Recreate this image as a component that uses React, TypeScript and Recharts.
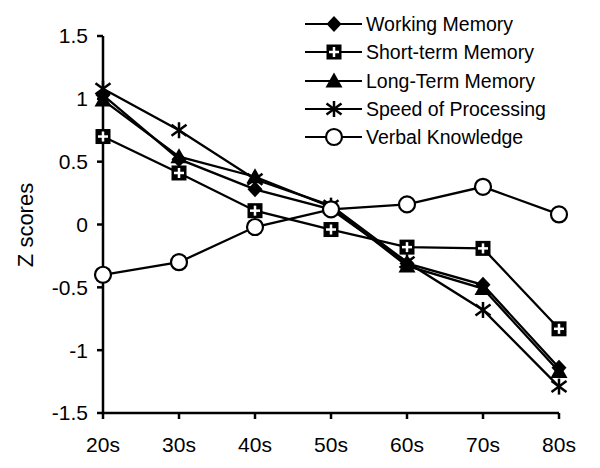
import React from 'react';
import { LineChart, Line, XAxis, YAxis, Legend } from 'recharts';

const categories = ['20s', '30s', '40s', '50s', '60s', '70s', '80s'];
const workingMemory = [1.03, 0.52, 0.28, 0.12, -0.31, -0.48, -1.14];
const shortTermMemory = [0.7, 0.41, 0.11, -0.04, -0.18, -0.19, -0.83];
const longTermMemory = [0.99, 0.54, 0.38, 0.14, -0.33, -0.51, -1.17];
const speedOfProcessing = [1.08, 0.75, 0.36, 0.15, -0.3, -0.68, -1.29];
const verbalKnowledge = [-0.4, -0.3, -0.02, 0.12, 0.16, 0.3, 0.08];
const yTicks = [-1.5, -1, -0.5, 0, 0.5, 1, 1.5];

const data = categories.map((c, i) => ({
  age: c,
  wm: workingMemory[i],
  stm: shortTermMemory[i],
  ltm: longTermMemory[i],
  sp: speedOfProcessing[i],
  vk: verbalKnowledge[i],
}));

const diamond = (cx: number, cy: number, k?: any) => (
  <path key={k} d={`M${cx},${cy - 8}L${cx + 7.5},${cy}L${cx},${cy + 8}L${cx - 7.5},${cy}Z`} fill="#000" />
);
const squareCross = (cx: number, cy: number, k?: any) => (
  <g key={k}>
    <rect x={cx - 7.5} y={cy - 7.5} width={15} height={15} fill="#000" />
    <line x1={cx - 5} y1={cy} x2={cx + 5} y2={cy} stroke="#fff" strokeWidth={2.5} />
    <line x1={cx} y1={cy - 5} x2={cx} y2={cy + 5} stroke="#fff" strokeWidth={2.5} />
  </g>
);
const triangle = (cx: number, cy: number, k?: any) => (
  <path key={k} d={`M${cx},${cy - 8.5}L${cx + 8.5},${cy + 6.5}L${cx - 8.5},${cy + 6.5}Z`} fill="#000" />
);
const asterisk = (cx: number, cy: number, k?: any) => (
  <g key={k} stroke="#000" strokeWidth={2.5}>
    <line x1={cx} y1={cy - 8} x2={cx} y2={cy + 8} />
    <line x1={cx - 7.5} y1={cy - 5.5} x2={cx + 7.5} y2={cy + 5.5} />
    <line x1={cx - 7.5} y1={cy + 5.5} x2={cx + 7.5} y2={cy - 5.5} />
  </g>
);
const circle = (cx: number, cy: number, k?: any) => (
  <circle key={k} cx={cx} cy={cy} r={8} fill="#fff" stroke="#000" strokeWidth={2.2} />
);

const series = [
  { key: 'wm', name: 'Working Memory', shape: diamond },
  { key: 'stm', name: 'Short-term Memory', shape: squareCross },
  { key: 'ltm', name: 'Long-Term Memory', shape: triangle },
  { key: 'sp', name: 'Speed of Processing', shape: asterisk },
  { key: 'vk', name: 'Verbal Knowledge', shape: circle },
];

const LegendContent = () => (
  <div>
    {series.map((s) => (
      <div key={s.key} style={{ display: 'flex', alignItems: 'center', height: 28.3 }}>
        <svg width={58} height={20} style={{ display: 'block' }}>
          <line x1={0} y1={10} x2={57} y2={10} stroke="#000" strokeWidth={2.2} />
          {s.shape(29, 10)}
        </svg>
        <span style={{ fontSize: 19.5, color: '#000', marginLeft: 3, lineHeight: '20px' }}>{s.name}</span>
      </div>
    ))}
  </div>
);

export default function App() {
  return (
    <div style={{ fontFamily: 'Arial, "Liberation Sans", Helvetica, sans-serif', width: 592, height: 460 }}>
      <LineChart width={592} height={460} data={data} margin={{ top: 28, right: 41, left: 0, bottom: 0 }}>
        <XAxis
          dataKey="age"
          height={55}
          stroke="#000"
          strokeWidth={2.5}
          tickSize={6}
          tickMargin={18}
          tick={{ fill: '#000', fontSize: 21 }}
          tickLine={{ stroke: '#000', strokeWidth: 2.5 }}
        />
        <YAxis
          width={95}
          domain={[-1.5, 1.5]}
          ticks={yTicks}
          type="number"
          stroke="#000"
          strokeWidth={2.5}
          tickSize={6}
          tickMargin={9}
          tick={{ fill: '#000', fontSize: 21 }}
          tickLine={{ stroke: '#000', strokeWidth: 2.5 }}
          label={{
            content: () => (
              <text x={17} y={217} transform="rotate(-90 17 217)" textAnchor="middle" dominantBaseline="central" fontSize={22} fill="#000">
                Z scores
              </text>
            ),
          }}
        />
        <Legend
          layout="vertical"
          align="center"
          verticalAlign="middle"
          content={() => <LegendContent />}
          wrapperStyle={{ top: 2, left: 297, width: 290 }}
        />
        {series.map((s) => (
          <Line
            key={s.key}
            dataKey={s.key}
            name={s.name}
            stroke="#000"
            strokeWidth={2.3}
            isAnimationActive={false}
            dot={(p: any) => s.shape(p.cx, p.cy, `${s.key}-${p.index}`)}
            activeDot={false}
          />
        ))}
      </LineChart>
    </div>
  );
}
